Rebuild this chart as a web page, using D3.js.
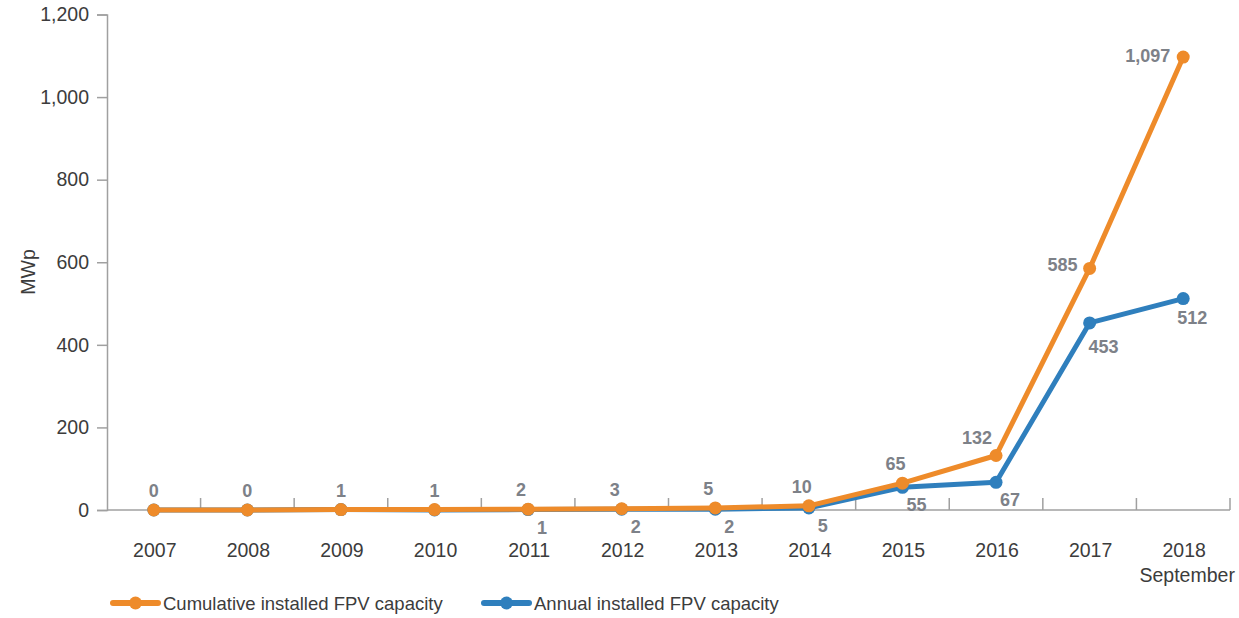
<!DOCTYPE html>
<html>
<head>
<meta charset="utf-8">
<script src="https://cdn.jsdelivr.net/npm/d3@7"></script>
<style>
    body { margin: 0; background: #fff; }
    text { font-family: "Liberation Sans", Arial, sans-serif; }
</style>
</head>
<body>
<div id="chart"></div>
<script>
const years = ['2007', '2008', '2009', '2010', '2011', '2012', '2013', '2014', '2015', '2016', '2017', '2018'];
const cumulative = [0, 0, 1, 1, 2, 3, 5, 10, 65, 132, 585, 1097];
const annual = [0, 0, 1, 0, 1, 2, 2, 5, 55, 67, 453, 512];
// annual labels are only printed from 2011 on
const annualShown = [false, false, false, false, true, true, true, true, true, true, true, true];
const yTicks = [0, 200, 400, 600, 800, 1000, 1200];
const seriesNames = ['Cumulative installed FPV capacity', 'Annual installed FPV capacity'];

const WIDTH = 1239;
const HEIGHT = 618;
const ORANGE = '#ee8b2a';
const BLUE = '#2f7fbd';
const LABEL_GREY = '#7d8188';
const AXIS_GREY = '#a0a0a0';
const TEXT_DARK = '#3c3c3c';

const svg = d3.select('#chart')
    .append('svg')
    .attr('width', WIDTH)
    .attr('height', HEIGHT);

const x = d3.scaleBand()
    .domain(years)
    .range([107, 1230]);

const y = d3.scaleLinear()
    .domain([0, 1200])
    .range([510, 14.5]);

const cx = d => x(d) + x.bandwidth() / 2;

// y axis
const yAxis = svg.append('g')
    .attr('transform', 'translate(107,0)')
    .call(d3.axisLeft(y).tickValues(yTicks).tickSize(10).tickPadding(8).tickFormat(d3.format(',')));
yAxis.select('.domain').attr('stroke', AXIS_GREY).attr('stroke-width', 1.5);
yAxis.selectAll('.tick line').attr('stroke', AXIS_GREY).attr('stroke-width', 1.5);
yAxis.selectAll('.tick text')
    .attr('font-size', 19.5)
    .attr('fill', TEXT_DARK);

// x axis with ticks at category boundaries
svg.append('line')
    .attr('x1', 107).attr('x2', 1230)
    .attr('y1', y(0)).attr('y2', y(0))
    .attr('stroke', AXIS_GREY)
    .attr('stroke-width', 1.5);

svg.selectAll('.xtick')
    .data(years.slice(1).concat(['end']))
    .enter()
    .append('line')
    .attr('class', 'xtick')
    .attr('x1', (d, i) => x(years[i]) + x.bandwidth())
    .attr('x2', (d, i) => x(years[i]) + x.bandwidth())
    .attr('y1', y(0))
    .attr('y2', y(0) - 12)
    .attr('stroke', AXIS_GREY)
    .attr('stroke-width', 1.5);

svg.selectAll('.xlabel')
    .data(years)
    .enter()
    .append('text')
    .attr('class', 'xlabel')
    .text(d => d)
    .attr('x', d => cx(d) + 1)
    .attr('y', 557)
    .attr('font-size', 19.5)
    .attr('fill', TEXT_DARK)
    .attr('text-anchor', 'middle');

svg.append('text')
    .text('September')
    .attr('x', cx('2018') + 4)
    .attr('y', 582)
    .attr('font-size', 19.5)
    .attr('fill', TEXT_DARK)
    .attr('text-anchor', 'middle');

svg.append('text')
    .text('MWp')
    .attr('transform', 'translate(35,272) rotate(-90)')
    .attr('font-size', 19.5)
    .attr('fill', TEXT_DARK)
    .attr('text-anchor', 'middle');

// lines
const line = d3.line()
    .x((d, i) => cx(years[i]))
    .y(d => y(d));

function drawSeries(values, color) {
    svg.append('path')
        .datum(values)
        .attr('d', line)
        .attr('fill', 'none')
        .attr('stroke', color)
        .attr('stroke-width', 5)
        .attr('stroke-linejoin', 'round');
    svg.append('g')
        .selectAll('circle')
        .data(values)
        .enter()
        .append('circle')
        .attr('cx', (d, i) => cx(years[i]))
        .attr('cy', d => y(d))
        .attr('r', 6.5)
        .attr('fill', color);
}

drawSeries(annual, BLUE);
drawSeries(cumulative, ORANGE);

// value labels
function cumulativePlacement(i) {
    if (i === years.length - 1) return { dx: -13, dy: 5, anchor: 'end' };
    if (i === years.length - 2) return { dx: -12, dy: 3, anchor: 'end' };
    if (i === years.length - 3) return { dx: -19, dy: -11, anchor: 'middle' };
    if (i < 4) return { dx: 0, dy: -13, anchor: 'middle' };
    return { dx: -7, dy: -13, anchor: 'middle' };
}

function annualPlacement(i) {
    if (i === years.length - 2) return { dx: 14, dy: 30, anchor: 'middle' };
    if (i === years.length - 1) return { dx: 9, dy: 25, anchor: 'middle' };
    return { dx: 14, dy: 24, anchor: 'middle' };
}

svg.selectAll('.clabel')
    .data(cumulative)
    .enter()
    .append('text')
    .attr('class', 'clabel')
    .text(d => d3.format(',')(d))
    .attr('x', (d, i) => cx(years[i]) + cumulativePlacement(i).dx)
    .attr('y', (d, i) => y(d) + cumulativePlacement(i).dy)
    .attr('text-anchor', (d, i) => cumulativePlacement(i).anchor)
    .attr('font-size', 18)
    .attr('font-weight', 'bold')
    .attr('fill', LABEL_GREY);

svg.selectAll('.alabel')
    .data(annual.map((v, i) => ({ v, i })).filter(d => annualShown[d.i]))
    .enter()
    .append('text')
    .attr('class', 'alabel')
    .text(d => d3.format(',')(d.v))
    .attr('x', d => cx(years[d.i]) + annualPlacement(d.i).dx)
    .attr('y', d => y(d.v) + annualPlacement(d.i).dy)
    .attr('text-anchor', d => annualPlacement(d.i).anchor)
    .attr('font-size', 18)
    .attr('font-weight', 'bold')
    .attr('fill', LABEL_GREY);

// legend
const legend = svg.selectAll('.legend')
    .data(seriesNames)
    .enter()
    .append('g')
    .attr('class', 'legend')
    .attr('transform', (d, i) => `translate(${i === 0 ? 113 : 484},603)`);

legend.append('line')
    .attr('x1', 0).attr('x2', 45)
    .attr('y1', 0).attr('y2', 0)
    .attr('stroke', (d, i) => i === 0 ? ORANGE : BLUE)
    .attr('stroke-width', 6)
    .attr('stroke-linecap', 'round');

legend.append('circle')
    .attr('cx', 22.5)
    .attr('r', 6.5)
    .attr('fill', (d, i) => i === 0 ? ORANGE : BLUE);

legend.append('text')
    .text(d => d)
    .attr('x', 50)
    .attr('y', 7)
    .attr('font-size', 18.5)
    .attr('fill', TEXT_DARK);
</script>
</body>
</html>
